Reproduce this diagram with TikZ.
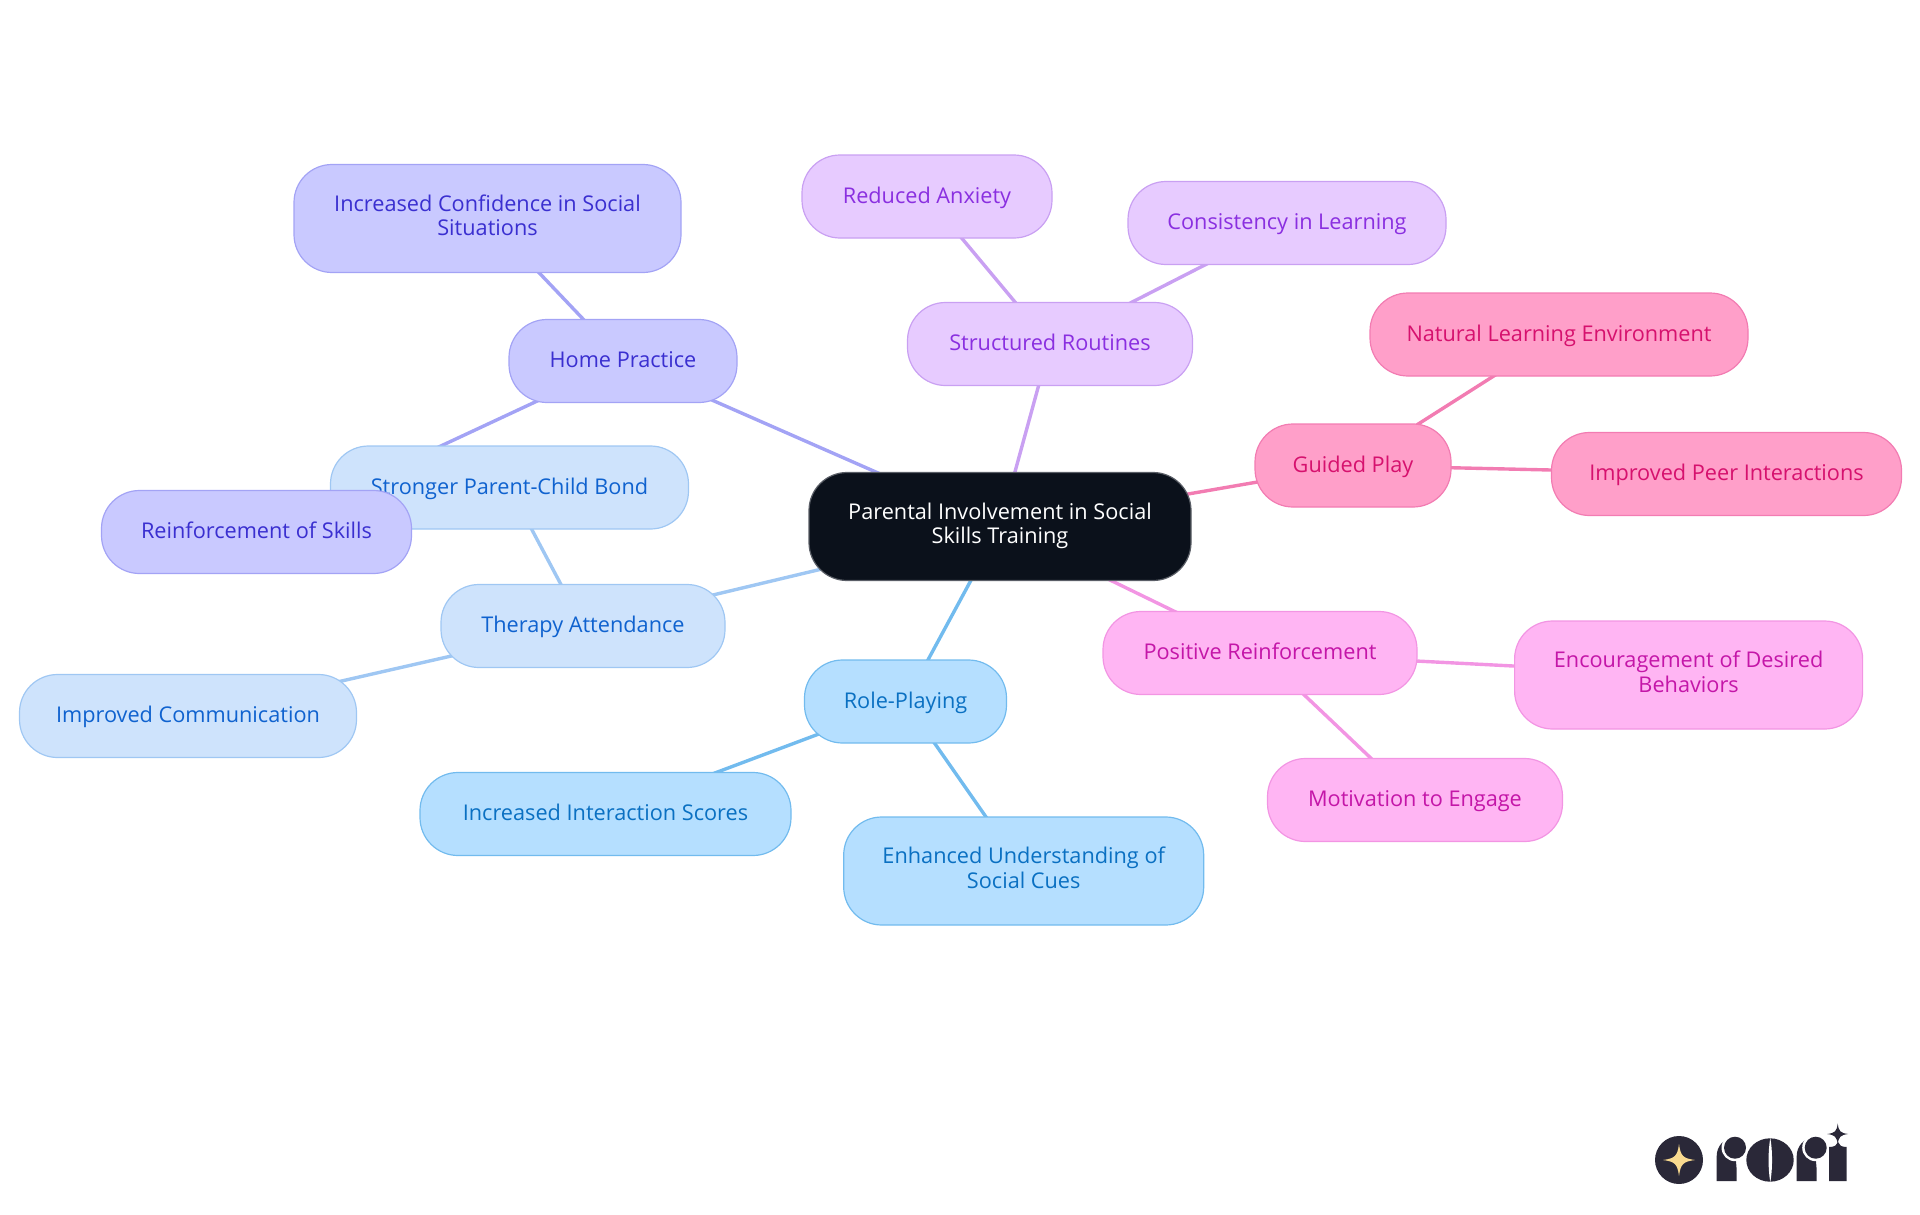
\documentclass[tikz,border=0pt]{standalone}
\usepackage{fontspec}
\setmainfont{Open Sans}
\usetikzlibrary{backgrounds}
\definecolor{rootfill}{HTML}{0B111B}
\definecolor{rootline}{HTML}{5A5E66}
\definecolor{indigofill}{HTML}{C9C9FF}
\definecolor{indigoline}{HTML}{A3A3F5}
\definecolor{indigotext}{HTML}{3A2FD0}
\definecolor{bluefill}{HTML}{CEE3FC}
\definecolor{blueline}{HTML}{9FC7F3}
\definecolor{bluetext}{HTML}{0F62CF}
\definecolor{skyfill}{HTML}{B5DFFF}
\definecolor{skyline}{HTML}{72BBEE}
\definecolor{skytext}{HTML}{0A70C2}
\definecolor{magentafill}{HTML}{FFB5F3}
\definecolor{magentaline}{HTML}{F295E3}
\definecolor{magentatext}{HTML}{C416A8}
\definecolor{rosefill}{HTML}{FF9FC9}
\definecolor{roseline}{HTML}{F27CB2}
\definecolor{rosetext}{HTML}{D6116E}
\definecolor{purplefill}{HTML}{E7CBFF}
\definecolor{purpleline}{HTML}{C9A0F2}
\definecolor{purpletext}{HTML}{8A2FE0}
\definecolor{logodark}{HTML}{2A2838}
\definecolor{logostar}{HTML}{F9DA8F}
\tikzset{
  mapnode/.style={draw, rounded corners=38pt, line width=1.2pt, align=center,
    inner sep=0pt, minimum height=83pt, font=\fontsize{21.7}{24.5}\selectfont,
    execute at begin node={\rule{0pt}{20pt}},
    execute at end node={\rule[-6.2pt]{0pt}{6.2pt}}},
  twoline/.style={minimum height=108pt, execute at begin node={\rule{0pt}{24pt}}},
  rootnode/.style={mapnode, fill=rootfill, draw=rootline, text=white},
  indigonode/.style={mapnode, fill=indigofill, draw=indigoline, text=indigotext},
  bluenode/.style={mapnode, fill=bluefill, draw=blueline, text=bluetext},
  skynode/.style={mapnode, fill=skyfill, draw=skyline, text=skytext},
  magentanode/.style={mapnode, fill=magentafill, draw=magentaline, text=magentatext},
  rosenode/.style={mapnode, fill=rosefill, draw=roseline, text=rosetext},
  purplenode/.style={mapnode, fill=purplefill, draw=purpleline, text=purpletext},
  link/.style={line width=3.4pt},
  spark/.pic={
    \fill (-1,0) .. controls (-0.25,-0.1) and (-0.1,-0.25) .. (0,-1)
      .. controls (0.1,-0.25) and (0.25,-0.1) .. (1,0)
      .. controls (0.25,0.1) and (0.1,0.25) .. (0,1)
      .. controls (-0.1,0.25) and (-0.25,0.1) .. (-1,0) -- cycle;
  }
}
\begin{document}
\begin{tikzpicture}[x=1pt,y=-1pt]
  \useasboundingbox (0,0) rectangle (1920,1215);

  \node[rootnode, twoline, minimum width=382pt] (root) at (1000,526.5) {Parental Involvement in Social\\Skills Training};

  \node[indigonode, minimum width=228pt] (home) at (623,361) {Home Practice};
  \node[indigonode, twoline, minimum width=387pt] (confidence) at (487.5,218.5) {Increased Confidence in Social\\Situations};
  \node[bluenode, minimum width=358pt] (bond) at (509.5,487.5) {Stronger Parent-Child Bond};
  \node[indigonode, minimum width=310pt] (skills) at (256.5,532) {Reinforcement of Skills};

  \node[bluenode, minimum width=284pt] (therapy) at (583,626) {Therapy Attendance};
  \node[bluenode, minimum width=337pt] (communication) at (188,716) {Improved Communication};

  \node[skynode, minimum width=202pt] (role) at (905.5,701.5) {Role-Playing};
  \node[skynode, minimum width=371pt] (scores) at (605.5,814) {Increased Interaction Scores};
  \node[skynode, twoline, minimum width=360pt] (cues) at (1023.7,871) {Enhanced Understanding of\\Social Cues};

  \node[magentanode, minimum width=314pt] (positive) at (1260,653) {Positive Reinforcement};
  \node[magentanode, twoline, minimum width=348pt] (behaviors) at (1688.6,675) {Encouragement of Desired\\Behaviors};
  \node[magentanode, minimum width=295pt] (motivation) at (1415,800) {Motivation to Engage};

  \node[rosenode, minimum width=196pt] (guided) at (1353,465.5) {Guided Play};
  \node[rosenode, minimum width=378pt] (natural) at (1559,334.5) {Natural Learning Environment};
  \node[rosenode, minimum width=350pt] (peer) at (1726.5,474) {Improved Peer Interactions};

  \node[purplenode, minimum width=285pt] (routines) at (1050,344) {Structured Routines};
  \node[purplenode, minimum width=250pt] (anxiety) at (927,196.5) {Reduced Anxiety};
  \node[purplenode, minimum width=318pt] (consistency) at (1287,223) {Consistency in Learning};

  \begin{scope}[on background layer]
    \draw[link, indigoline] (root.center) -- (home.center);
    \draw[link, indigoline] (home.center) -- (confidence.center);
    \draw[link, indigoline] (home.center) -- (skills.center);
    \draw[link, blueline] (root.center) -- (therapy.center);
    \draw[link, blueline] (therapy.center) -- (bond.center);
    \draw[link, blueline] (therapy.center) -- (communication.center);
    \draw[link, skyline] (root.center) -- (role.center);
    \draw[link, skyline] (role.center) -- (scores.center);
    \draw[link, skyline] (role.center) -- (cues.center);
    \draw[link, magentaline] (root.center) -- (positive.center);
    \draw[link, magentaline] (positive.center) -- (behaviors.center);
    \draw[link, magentaline] (positive.center) -- (motivation.center);
    \draw[link, roseline] (root.center) -- (guided.center);
    \draw[link, roseline] (guided.center) -- (natural.center);
    \draw[link, roseline] (guided.center) -- (peer.center);
    \draw[link, purpleline] (root.center) -- (routines.center);
    \draw[link, purpleline] (routines.center) -- (anxiety.center);
    \draw[link, purpleline] (routines.center) -- (consistency.center);
  \end{scope}

  \fill[logodark] (1679,1160) circle (24);
  \pic[logostar, scale=16] at (1679,1160) {spark};
  \fill[logodark] (1716.7,1181) -- (1716.7,1156) .. controls (1716.7,1146) and (1724,1138) .. (1734,1138) -- (1736.7,1170) -- (1736.7,1181) -- cycle;
  \fill[white] (1735,1147.7) circle (13.5);
  \fill[logodark] (1735,1147.7) circle (11);
  \fill[logodark] (1770,1160) ellipse (23.7 and 21.7);
  \fill[white] (1770.3,1138) .. controls (1768,1150) and (1768,1170) .. (1770.3,1182)
    .. controls (1772.6,1170) and (1772.6,1150) .. (1770.3,1138) -- cycle;
  \fill[logodark] (1796.7,1181) -- (1796.7,1156) .. controls (1796.7,1146) and (1804,1138) .. (1814,1138) -- (1816.7,1170) -- (1816.7,1181) -- cycle;
  \fill[white] (1815.7,1147.7) circle (13.5);
  \fill[logodark] (1815.7,1147.7) circle (11);
  \fill[logodark] (1829,1181) -- (1829,1147) .. controls (1835,1147) and (1837,1145) .. (1838,1142) .. controls (1839,1145) and (1841,1147) .. (1846.7,1147) -- (1846.7,1181) -- cycle;
  \pic[logodark, scale=10.5] at (1837.7,1134) {spark};
\end{tikzpicture}
\end{document}
